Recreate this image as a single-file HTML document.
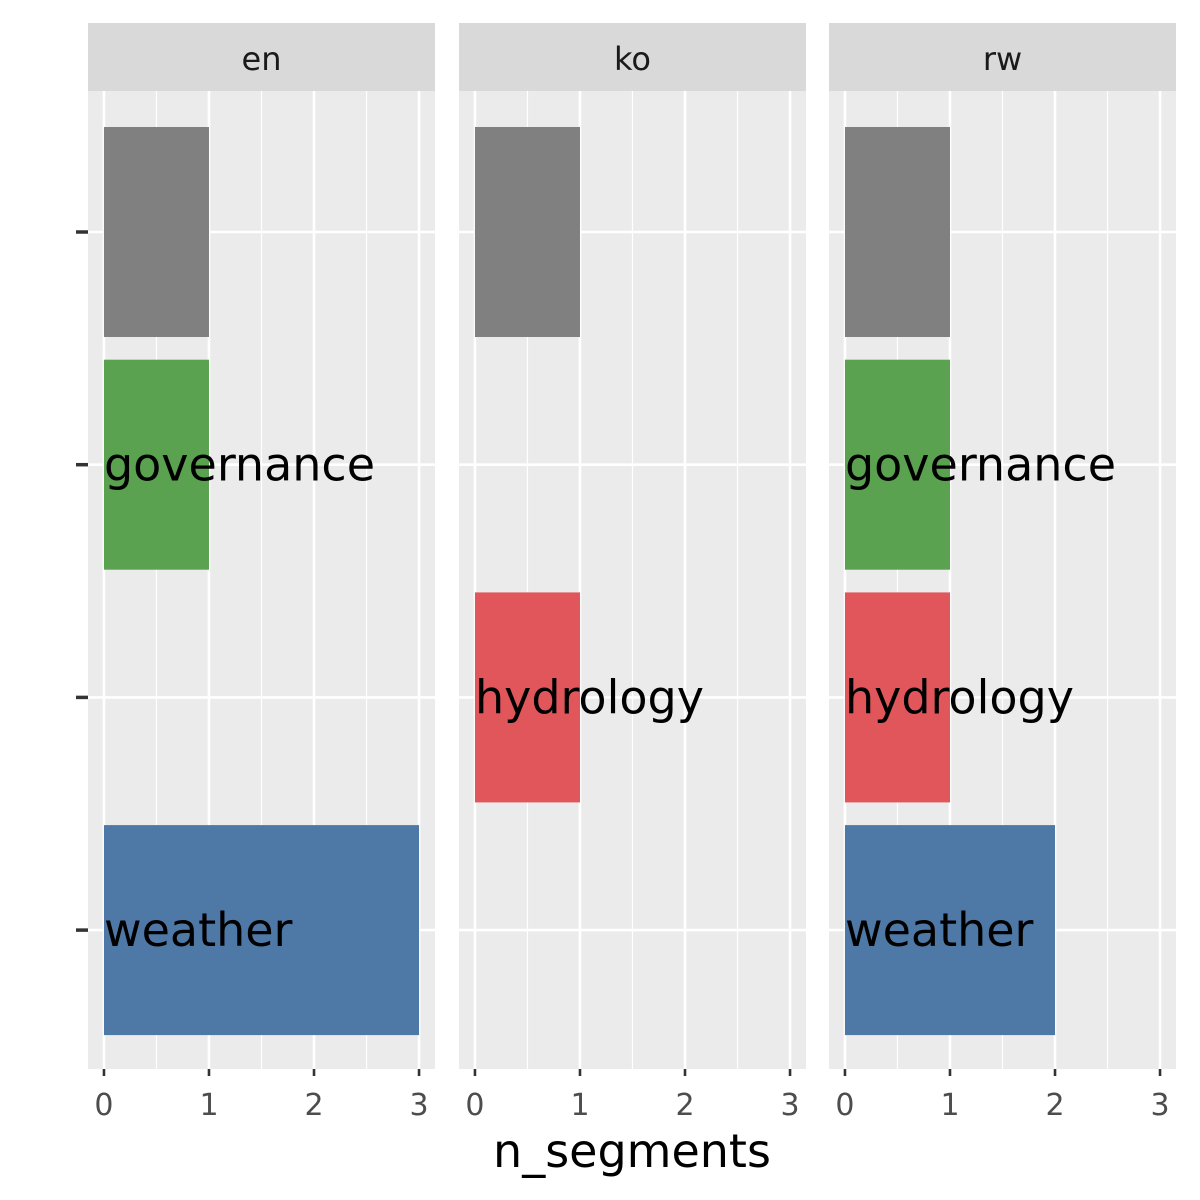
<!DOCTYPE html>
<html><head><meta charset="utf-8">
<style>
html,body{margin:0;padding:0;background:#fff;}
svg{display:block;font-family:"DejaVu Sans","Liberation Sans",sans-serif;}
</style></head>
<body>
<svg id="chart" width="1200" height="1200" viewBox="0 0 1200 1200"></svg>
<script>
const panels = ["en","ko","rw"];
const categories = ["", "governance", "hydrology", "weather"];
const colors = ["#808080","#5AA150","#E0565A","#4E79A7"];
const values = {
  en: [1, 1, 0, 3],
  ko: [1, 0, 1, 0],
  rw: [1, 1, 1, 2]
};
const xTicks = [0,1,2,3];
const xMinor = [0.5,1.5,2.5];

const NS = "http://www.w3.org/2000/svg";
const svg = document.getElementById("chart");
function mk(tag, attrs, parent){
  const e = document.createElementNS(NS, tag);
  for (const k in attrs) e.setAttribute(k, attrs[k]);
  (parent||svg).appendChild(e);
  return e;
}
const panelLefts = [88, 459, 829];
const panelW = 347, panelTop = 91, panelBot = 1069, stripTop = 23;
const xMin = -0.152, xMax = 3.152;
const catY0 = 232, catStep = 232.7, barH = 210;
function yCat(i){ return catY0 + i*catStep; }

panels.forEach((p, pi) => {
  const L = panelLefts[pi];
  const xs = v => L + (v - xMin) / (xMax - xMin) * panelW;
  const g = mk("g", {});
  
  
  const bg = mk("rect", {x:L, y:panelTop, width:panelW, height:panelBot-panelTop, fill:"#EBEBEB"}, g);
  
  
  xMinor.forEach(v => {
    const l = mk("line", {x1:xs(v), x2:xs(v), y1:panelTop, y2:panelBot, stroke:"#fff", "stroke-width":1.2}, g);
    
    
  });
  xTicks.forEach(v => {
    const l = mk("line", {x1:xs(v), x2:xs(v), y1:panelTop, y2:panelBot, stroke:"#fff", "stroke-width":2.6}, g);
    
    
  });
  categories.forEach((c, i) => {
    const l = mk("line", {x1:L, x2:L+panelW, y1:yCat(i), y2:yCat(i), stroke:"#fff", "stroke-width":2.6}, g);
    
    
  });
  const st = mk("rect", {x:L, y:stripTop, width:panelW, height:panelTop-stripTop, fill:"#D9D9D9"}, g);
  
  
  const stt = mk("text", {x:L+panelW/2, y:70, "text-anchor":"middle", "font-size":32, fill:"#1A1A1A"}, g);
  stt.textContent = p;
  
  
  values[p].forEach((v, i) => {
    if (!v) return;
    const r = mk("rect", {x:xs(0), y:yCat(i)-barH/2, width:xs(v)-xs(0), height:barH, fill:colors[i]}, g);
    
    
    if (categories[i]) {
      const t = mk("text", {x:xs(0), y:yCat(i)+16, "font-size":46, fill:"#000"}, g);
      t.textContent = categories[i];
      
      
    }
  });
  xTicks.forEach(v => {
    const tk = mk("line", {x1:xs(v), x2:xs(v), y1:panelBot, y2:panelBot+7, stroke:"#333", "stroke-width":2.6}, g);
    
    
    const tl = mk("text", {x:xs(v), y:1115, "text-anchor":"middle", "font-size":30, fill:"#4D4D4D"}, g);
    tl.textContent = v;
    
    
  });
});
categories.forEach((c, i) => {
  const tk = mk("line", {x1:76, x2:88, y1:yCat(i), y2:yCat(i), stroke:"#333", "stroke-width":3.5});
  
  
});
const title = mk("text", {x:632, y:1167, "text-anchor":"middle", "font-size":46, fill:"#000"});
title.textContent = "n_segments";


</script>
</body></html>
